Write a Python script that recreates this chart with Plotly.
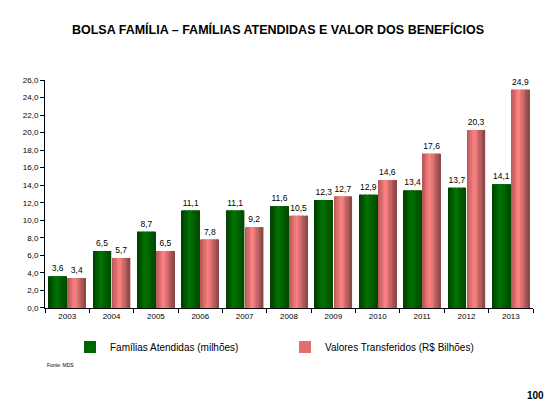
import plotly.graph_objects as go

years = ["2003", "2004", "2005", "2006", "2007", "2008", "2009", "2010", "2011", "2012", "2013"]
familias = [3.6, 6.5, 8.7, 11.1, 11.1, 11.6, 12.3, 12.9, 13.4, 13.7, 14.1]
valores = [3.4, 5.7, 6.5, 7.8, 9.2, 10.5, 12.7, 14.6, 17.6, 20.3, 24.9]
y_ticks = [0, 2, 4, 6, 8, 10, 12, 14, 16, 18, 20, 22, 24, 26]

FONT = "Liberation Sans, Arial, sans-serif"

# The page body adds an 8px margin, so the figure is drawn 8px smaller
W, H = 549, 411
OFF = 8


def hex2rgb(h):
    h = h.lstrip("#")
    return tuple(int(h[i:i + 2], 16) for i in (0, 2, 4))


def interp(stops, t):
    for (t0, c0), (t1, c1) in zip(stops[:-1], stops[1:]):
        if t0 <= t <= t1:
            f = (t - t0) / (t1 - t0) if t1 > t0 else 0
            a, b = hex2rgb(c0), hex2rgb(c1)
            r = [round(a[i] + (b[i] - a[i]) * f) for i in range(3)]
            return "rgb(%d,%d,%d)" % tuple(r)
    return stops[-1][1]


green_stops = [(0.0, "#003c00"), (0.45, "#007400"), (1.0, "#004800")]
pink_stops = [(0.0, "#b25656"), (0.42, "#ff8484"), (1.0, "#864444")]

BW = 0.405
series = [
    ("Famílias Atendidas (milhões)", familias, green_stops, -0.415, "#006400"),
    ("Valores Transferidos (R$ Bilhões)", valores, pink_stops, 0.015, "#e07070"),
]

fig = go.Figure()
N = 14
for name, vals, stops, off, mid in series:
    fig.add_trace(go.Bar(
        x=years, y=vals, name=name, width=BW, offset=off,
        marker=dict(color=mid, line=dict(width=0)),
        texttemplate="%{y:.1f}", textposition="outside",
        textfont=dict(family=FONT, size=8.5, color="#000000"),
        cliponaxis=False, hoverinfo="skip",
    ))
    sw = BW / N
    for k in range(N):
        t = (k + 0.5) / N
        fig.add_trace(go.Bar(
            x=years, y=vals, width=sw * 1.05, offset=off + k * sw,
            marker=dict(color=interp(stops, t), line=dict(width=0)),
            showlegend=False, hoverinfo="skip",
        ))

pl, pt, pr, pb = 45 - OFF, 80 - OFF, 533 - OFF, 311 - OFF
pw, ph = pr - pl, pb - pt

fig.update_layout(
    width=W, height=H,
    margin=dict(l=pl, r=W - pr, t=pt, b=H - pb),
    paper_bgcolor="white", plot_bgcolor="white",
    barmode="overlay",
    separators=",.",
    font=dict(family=FONT, size=8, color="#000000"),
    title=dict(
        text="<b>BOLSA FAMÍLIA – FAMÍLIAS ATENDIDAS E VALOR DOS BENEFÍCIOS</b>",
        x=(278 - OFF) / W, xref="container", xanchor="center",
        y=1 - (30 - OFF) / H, yanchor="middle",
        font=dict(family=FONT, size=12.5, color="#000000"),
    ),
    legend=dict(
        orientation="h", xref="container", yref="container",
        x=(70 - OFF) / W, y=1 - (347 - OFF) / H, yanchor="middle", xanchor="left",
        entrywidth=170, itemwidth=30,
        font=dict(family=FONT, size=10, color="#000000"),
        bgcolor="rgba(0,0,0,0)",
    ),
    xaxis=dict(
        type="category", range=[-0.5, 10.5],
        showline=True, linecolor="#000000", linewidth=1,
        ticks="outside", tickson="boundaries", ticklen=4, tickcolor="#000000",
        tickfont=dict(family=FONT, size=8), showgrid=False, zeroline=False,
    ),
    yaxis=dict(
        range=[0, 26], tickvals=y_ticks, tickformat=".1f",
        showline=True, linecolor="#000000", linewidth=1,
        ticks="outside", ticklen=4, tickcolor="#000000",
        tickfont=dict(family=FONT, size=8), showgrid=False, zeroline=False,
    ),
    annotations=[
        dict(text="Fonte: MDS", xref="paper", yref="paper", x=0.0, y=1 - (369 - 80) / ph,
             xanchor="left", yanchor="middle", showarrow=False,
             font=dict(family=FONT, size=5, color="#000000")),
        dict(text="<b>100</b>", xref="paper", yref="paper", x=(546 - 45) / pw, y=1 - (400 - 80) / ph,
             xanchor="right", yanchor="middle", showarrow=False,
             font=dict(family=FONT, size=10, color="#000000")),
    ],
)

fig.write_html("out.html")
